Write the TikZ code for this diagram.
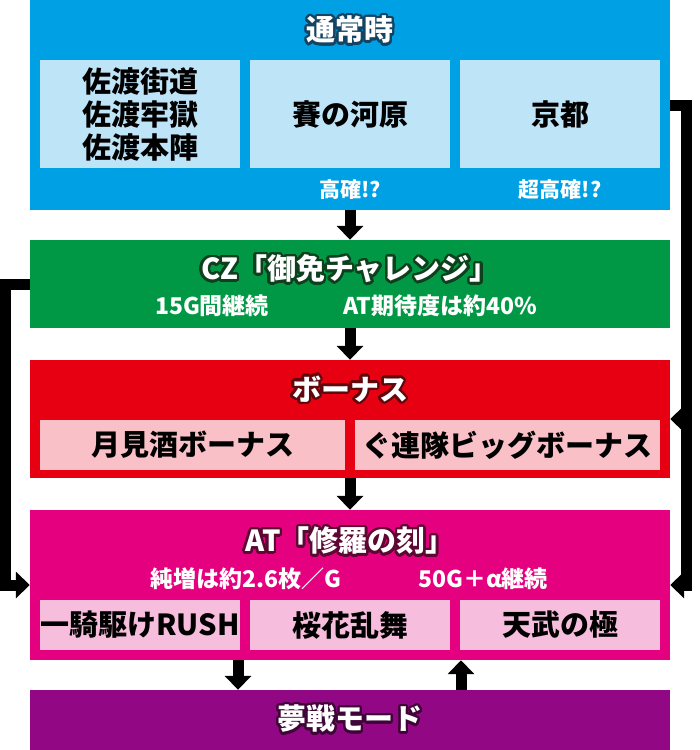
\documentclass[tikz,border=0pt]{standalone}
\usepackage{fontspec}
\setmainfont{Noto Sans CJK JP}
\usepackage{contour}
\usetikzlibrary{arrows.meta}
\contourlength{2.4pt}
\contournumber{32}

\definecolor{NormalBlue}{RGB}{0,160,228}
\definecolor{NormalLight}{RGB}{190,228,248}
\definecolor{NormalDark}{RGB}{20,68,100}
\definecolor{CzGreen}{RGB}{0,152,68}
\definecolor{CzDark}{RGB}{15,64,30}
\definecolor{BonusRed}{RGB}{230,0,18}
\definecolor{BonusLight}{RGB}{249,192,200}
\definecolor{BonusDark}{RGB}{97,8,12}
\definecolor{AtPink}{RGB}{228,0,127}
\definecolor{AtLight}{RGB}{246,190,220}
\definecolor{AtDark}{RGB}{92,8,50}
\definecolor{DreamPurple}{RGB}{146,7,131}
\definecolor{DreamDark}{RGB}{64,5,56}

\tikzset{
	section/.style={minimum width=640pt, minimum height=#1, inner sep=0pt},
	stage/.style={minimum width=#1, inner sep=0pt, align=center, font=\bfseries\fontsize{29}{33}\selectfont},
	title/.style={text=white, inner sep=0pt, font=\bfseries\fontsize{29}{29}\selectfont},
	note/.style={text=white, inner sep=0pt, font=\bfseries\fontsize{21}{21}\selectfont},
	subnote/.style={text=white, inner sep=0pt, font=\bfseries\fontsize{23}{23}\selectfont},
	flow/.style={line width=11pt, -{Triangle[width=26pt,length=14pt]}}
}

\begin{document}
\begin{tikzpicture}[x=1pt, y=-1pt]
	\useasboundingbox (0,0) rectangle (700,750);

	\node[section=210pt, fill=NormalBlue] (Normal) at (350,105) {};
	\node[title] (NormalTitle) at (350,31) {\contour{NormalDark}{通常時}};
	\node[stage=200pt, minimum height=108pt, fill=NormalLight] (Sado) at (140,114) {佐渡街道\\佐渡牢獄\\佐渡本陣};
	\node[stage=200pt, minimum height=108pt, fill=NormalLight] (Sai) at (350,114) {賽の河原};
	\node[stage=200pt, minimum height=108pt, fill=NormalLight] (Kyoto) at (560,114) {京都};
	\node[note] (SaiNote) at (350,190) {高確!?};
	\node[note] (KyotoNote) at (560,190) {超高確!?};

	\node[section=88pt, fill=CzGreen] (Cz) at (350,284) {};
	\node[title] (CzTitle) at (350,270) {\contour{CzDark}{CZ「御免チャレンジ」}};
	\node[subnote] (CzLength) at (212,306) {15G間継続};
	\node[subnote] (CzChance) at (440,306) {AT期待度は約40\%};

	\node[section=118pt, fill=BonusRed] (Bonus) at (350,419) {};
	\node[title] (BonusTitle) at (350,390) {\contour{BonusDark}{ボーナス}};
	\node[stage=305pt, minimum height=50pt, fill=BonusLight] (Tsukimi) at (192.5,445) {月見酒ボーナス};
	\node[stage=305pt, minimum height=50pt, fill=BonusLight] (Gurentai) at (507.5,445) {ぐ連隊ビッグボーナス};

	\node[section=150pt, fill=AtPink] (At) at (350,585) {};
	\node[title] (AtTitle) at (350,542) {\contour{AtDark}{AT「修羅の刻」}};
	\node[subnote] (AtGain) at (246,579) {純増は約2.6枚／G};
	\node[subnote] (AtLength) at (483,579) {50G＋α継続};
	\node[stage=200pt, minimum height=50pt, fill=AtLight] (Ikki) at (140,625) {一騎駆けRUSH};
	\node[stage=200pt, minimum height=50pt, fill=AtLight] (Ouka) at (350,625) {桜花乱舞};
	\node[stage=200pt, minimum height=50pt, fill=AtLight] (Tenbu) at (560,625) {天武の極};

	\node[section=60pt, fill=DreamPurple] (Dream) at (350,720) {};
	\node[title] (DreamTitle) at (350,720) {\contour{DreamDark}{夢戦モード}};

	\coordinate (RightTurn) at (686,105);

	\draw[flow] (Normal.south) -- (Cz.north);
	\draw[flow] (Cz.south) -- (Bonus.north);
	\draw[flow] (Bonus.south) -- (At.north);
	\draw[flow] ([xshift=-112pt]At.south) -- ([xshift=-112pt]Dream.north);
	\draw[flow] ([xshift=111pt]Dream.north) -- ([xshift=111pt]At.south);
	\draw[flow] (Cz.west) -- ++(-24.5,0) |- (At.west);
	\draw[flow] (Normal.east) -- (RightTurn) |- (At.east);
	\draw[flow] (RightTurn) |- (Bonus.east);
\end{tikzpicture}
\end{document}
